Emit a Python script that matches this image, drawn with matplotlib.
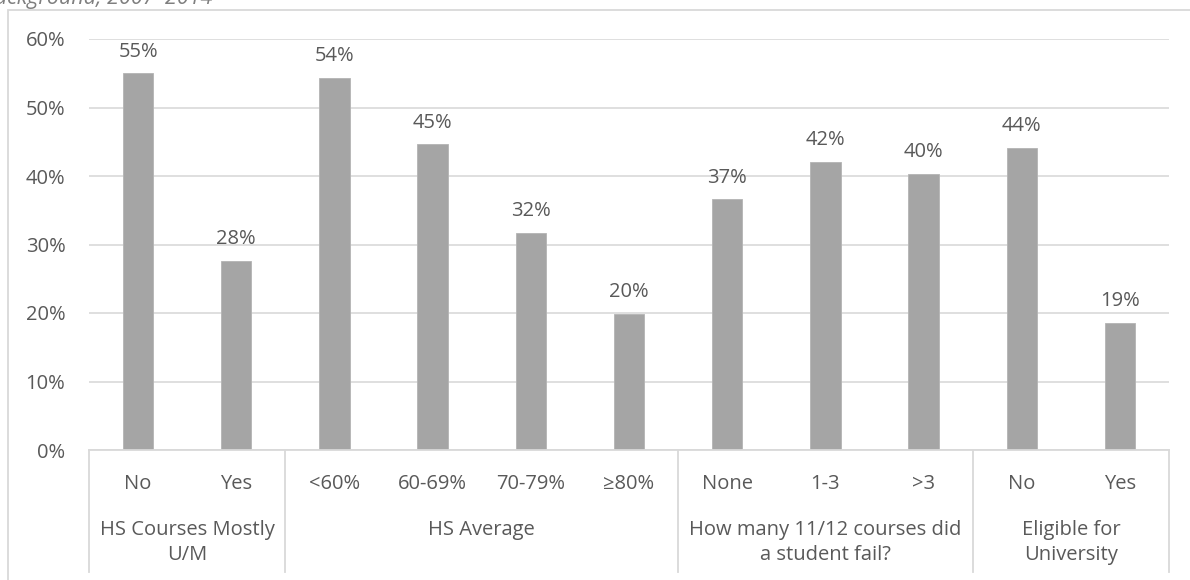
import matplotlib
matplotlib.use("Agg")
import matplotlib.pyplot as plt
from matplotlib.lines import Line2D
from matplotlib.patches import Rectangle
from matplotlib.ticker import PercentFormatter

# share of students in each background category
categories = ["No", "Yes", "<60%", "60-69%", "70-79%", "≥80%",
              "None", "1-3", ">3", "No", "Yes"]
values = [0.550, 0.276, 0.543, 0.446, 0.317, 0.199,
          0.366, 0.421, 0.403, 0.441, 0.186]

# outer category groups: (label, number of categories in the group)
groups = [("HS Courses Mostly\nU/M", 2),
          ("HS Average", 4),
          ("How many 11/12 courses did\na student fail?", 3),
          ("Eligible for\nUniversity", 2)]

yticks = [0, 0.1, 0.2, 0.3, 0.4, 0.5, 0.6]
caption = "Background, 2007–2014"

TEXT = "#595959"
GRID = "#D9D9D9"
BAR = "#A5A5A5"

plt.rcParams["font.family"] = ["Open Sans", "DejaVu Sans"]
plt.rcParams["font.size"] = 14.5

W, H = 1190, 580
fig = plt.figure(figsize=(W / 100, H / 100), dpi=100)
ax = fig.add_axes([89 / W, 1 - 450 / H, 1080 / W, 411 / H])

x = list(range(len(categories)))
ax.bar(x, values, width=0.31, color=BAR, edgecolor="#B4B4B4", linewidth=0.6, zorder=3)

for xi, v in zip(x, values):
    ax.annotate(f"{v:.0%}", (xi, v), xytext=(0, 12), textcoords="offset points",
                ha="center", va="baseline", color=TEXT)

ax.set_xlim(-0.5, len(categories) - 0.5)
ax.set_ylim(0, 0.6)
ax.set_yticks(yticks)
ax.yaxis.set_major_formatter(PercentFormatter(1.0, decimals=0))
ax.grid(axis="y", color=GRID, linewidth=1.2, zorder=0)
for s in ax.spines.values():
    s.set_visible(False)
ax.tick_params(axis="y", length=0, pad=17, labelcolor=TEXT)

ax.set_xticks(x, categories)
ax.tick_params(axis="x", length=0, pad=17, labelcolor=TEXT)

# axis line and group separators below the plot
trans = ax.get_xaxis_transform()
ax.add_line(Line2D([-0.5, len(categories) - 0.5], [0, 0], transform=trans,
                   color=GRID, linewidth=1.3, clip_on=False, zorder=4))
sep_bottom = -(572 - 450) / 411
group_top = -(520 - 450) / 411
start = 0
edges = [-0.5]
for label, n in groups:
    mid = start + (n - 1) / 2
    ax.text(mid, group_top, label, transform=trans, ha="center", va="top",
            color=TEXT, linespacing=1.35)
    start += n
    edges.append(start - 0.5)
for e in edges:
    ax.add_line(Line2D([e, e], [0, sep_bottom], transform=trans,
                       color=GRID, linewidth=1.3, clip_on=False))

# chart frame and caption running off the top-left corner
fig.add_artist(Rectangle((7.5 / W, -0.1), 1.2, 1.1 - 10 / H, transform=fig.transFigure,
                         fill=False, edgecolor=GRID, linewidth=1.3))
fig.text(212 / W, 1 - 4 / H, caption, ha="right", va="baseline",
         style="italic", color="#7F7F7F", fontsize=15.5)

fig.savefig("out.png", dpi=100)
